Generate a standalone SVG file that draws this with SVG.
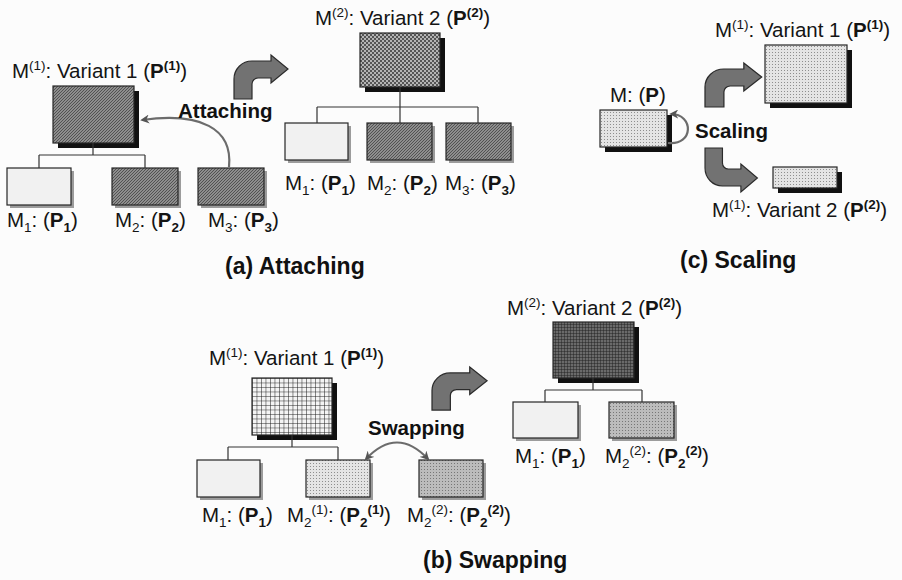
<svg xmlns="http://www.w3.org/2000/svg" width="902" height="580" viewBox="0 0 902 580">
  <style>
    .t { font-family: "Liberation Sans", Arial, sans-serif; font-size: 20.5px; fill: #141414; }
    .b { font-weight: bold; }
    .s { font-size: 13.5px; }
    .op { font-family: "Liberation Sans", Arial, sans-serif; font-weight: bold; font-size: 20.5px; fill: #111; }
    .cap { font-family: "Liberation Sans", Arial, sans-serif; font-weight: bold; font-size: 23px; fill: #111; }
    .box { stroke: #262626; stroke-width: 1.2; }
    .sh { fill: #111; }
    .shl { fill: #9c9c9c; }
    .light { fill: #f1f1f1; }
    .wire { fill: none; stroke: #333; stroke-width: 1.2; }
    .turn { fill: #727272; stroke: #2b2b2b; stroke-width: 1.2; }
    .thin { fill: none; stroke: #6c6c6c; stroke-width: 2.2; }
  </style>
  <defs>
    <!-- fine diagonal hatch, dark -->
    <pattern id="hatch" width="3" height="3" patternUnits="userSpaceOnUse">
      <rect width="3" height="3" fill="#8e8e8e"/>
      <path d="M-1,1 L1,-1 M0,3 L3,0 M2,4 L4,2" stroke="#4c4c4c" stroke-width="0.9"/>
    </pattern>
    <!-- checkerboard -->
    <pattern id="checker" width="4" height="4" patternUnits="userSpaceOnUse">
      <rect width="4" height="4" fill="#b4b4b4"/>
      <rect width="2" height="2" fill="#555"/>
      <rect x="2" y="2" width="2" height="2" fill="#555"/>
    </pattern>
    <!-- light dots -->
    <pattern id="dots" width="3" height="3" patternUnits="userSpaceOnUse">
      <rect width="3" height="3" fill="#e4e4e4"/>
      <rect x="1" y="1" width="1" height="1" fill="#8e8e8e"/>
    </pattern>
    <!-- medium dots -->
    <pattern id="gdots" width="3" height="3" patternUnits="userSpaceOnUse">
      <rect width="3" height="3" fill="#bcbcbc"/>
      <rect x="1" y="1" width="1" height="1" fill="#777"/>
    </pattern>
    <!-- open grid -->
    <pattern id="grid" x="252" y="378" width="4.5" height="4.5" patternUnits="userSpaceOnUse">
      <rect width="4.5" height="4.5" fill="#f4f4f4"/>
      <path d="M0,0 H4.5 M0,0 V4.5" stroke="#1e1e1e" stroke-width="1"/>
    </pattern>
    <!-- dense dark grid -->
    <pattern id="dgrid" width="3" height="3" patternUnits="userSpaceOnUse">
      <rect width="3" height="3" fill="#6a6a6a"/>
      <path d="M0,0 H3 M0,0 V3" stroke="#1c1c1c" stroke-width="0.9"/>
    </pattern>
    <!-- curved block arrow turning right -->
    <path id="turn" d="M0,44 L0,24 A18,18 0 0 1 18,6 L37,6 L37,0 L54,14 L37,28 L37,23 L24,23 A6,6 0 0 0 18,29 L18,44 Z"/>
    <marker id="head" viewBox="0 0 10 10" refX="8" refY="5" markerWidth="9" markerHeight="9" orient="auto-start-reverse" markerUnits="userSpaceOnUse">
      <path d="M0,0 L10,5 L0,10 L3,5 Z" fill="#555"/>
    </marker>
  </defs>

  <rect width="902" height="580" fill="#fcfcfc"/>

  <!-- (a) Attaching : variant 1 -->
  <g id="a1-root">
    <rect class="sh" x="58" y="91" width="81" height="57"/>
    <rect class="box" x="53" y="86" width="81" height="57" fill="url(#hatch)"/>
    <text class="t" x="12" y="78">M<tspan class="s" dy="-8">(1)</tspan><tspan dy="8">: Variant 1 (</tspan><tspan class="b">P</tspan><tspan class="b s" dy="-8">(1)</tspan><tspan dy="8">)</tspan></text>
  </g>
  <g id="a1-m1">
    <rect class="shl" x="10" y="171" width="64" height="37"/>
    <rect class="box light" x="7" y="168" width="64" height="37"/>
    <text class="t" x="7" y="227">M<tspan class="s" dy="5">1</tspan><tspan dy="-5">: (</tspan><tspan class="b">P</tspan><tspan class="b s" dy="5">1</tspan><tspan dy="-5">)</tspan></text>
  </g>
  <g id="a1-m2">
    <rect class="shl" x="115" y="171" width="66" height="37"/>
    <rect class="box" x="112" y="168" width="66" height="37" fill="url(#hatch)"/>
    <text class="t" x="115" y="227">M<tspan class="s" dy="5">2</tspan><tspan dy="-5">: (</tspan><tspan class="b">P</tspan><tspan class="b s" dy="5">2</tspan><tspan dy="-5">)</tspan></text>
  </g>
  <g id="a1-m3">
    <rect class="shl" x="201" y="171" width="66" height="37"/>
    <rect class="box" x="198" y="168" width="66" height="37" fill="url(#hatch)"/>
    <text class="t" x="208" y="227">M<tspan class="s" dy="5">3</tspan><tspan dy="-5">: (</tspan><tspan class="b">P</tspan><tspan class="b s" dy="5">3</tspan><tspan dy="-5">)</tspan></text>
  </g>

  <!-- (a) Attaching : variant 2 -->
  <g id="a2-root">
    <rect class="sh" x="365" y="38" width="80" height="54"/>
    <rect class="box" x="360" y="33" width="80" height="54" fill="url(#checker)"/>
    <text class="t" x="315" y="25">M<tspan class="s" dy="-8">(2)</tspan><tspan dy="8">: Variant 2 (</tspan><tspan class="b">P</tspan><tspan class="b s" dy="-8">(2)</tspan><tspan dy="8">)</tspan></text>
  </g>
  <g id="a2-m1">
    <rect class="shl" x="288" y="126" width="63" height="37"/>
    <rect class="box light" x="285" y="123" width="63" height="37"/>
    <text class="t" x="285" y="190">M<tspan class="s" dy="5">1</tspan><tspan dy="-5">: (</tspan><tspan class="b">P</tspan><tspan class="b s" dy="5">1</tspan><tspan dy="-5">)</tspan></text>
  </g>
  <g id="a2-m2">
    <rect class="shl" x="370" y="126" width="65" height="37"/>
    <rect class="box" x="367" y="123" width="65" height="37" fill="url(#hatch)"/>
    <text class="t" x="367" y="190">M<tspan class="s" dy="5">2</tspan><tspan dy="-5">: (</tspan><tspan class="b">P</tspan><tspan class="b s" dy="5">2</tspan><tspan dy="-5">)</tspan></text>
  </g>
  <g id="a2-m3">
    <rect class="shl" x="449" y="126" width="65" height="37"/>
    <rect class="box" x="446" y="123" width="65" height="37" fill="url(#hatch)"/>
    <text class="t" x="445" y="190">M<tspan class="s" dy="5">3</tspan><tspan dy="-5">: (</tspan><tspan class="b">P</tspan><tspan class="b s" dy="5">3</tspan><tspan dy="-5">)</tspan></text>
  </g>

  <!-- (c) Scaling -->
  <g id="c-src">
    <rect class="sh" x="605" y="115" width="67" height="37"/>
    <rect class="box" x="600" y="110" width="67" height="37" fill="url(#dots)"/>
    <text class="t" x="610" y="102">M: (<tspan class="b">P</tspan>)</text>
  </g>
  <g id="c-v1">
    <rect class="sh" x="770" y="50" width="82" height="58"/>
    <rect class="box" x="765" y="45" width="82" height="58" fill="url(#dots)"/>
    <text class="t" x="715" y="37">M<tspan class="s" dy="-8">(1)</tspan><tspan dy="8">: Variant 1 (</tspan><tspan class="b">P</tspan><tspan class="b s" dy="-8">(1)</tspan><tspan dy="8">)</tspan></text>
  </g>
  <g id="c-v2">
    <rect class="sh" x="778" y="172" width="64" height="21"/>
    <rect class="box" x="773" y="167" width="64" height="21" fill="url(#dots)"/>
    <text class="t" x="712" y="217">M<tspan class="s" dy="-8">(1)</tspan><tspan dy="8">: Variant 2 (</tspan><tspan class="b">P</tspan><tspan class="b s" dy="-8">(2)</tspan><tspan dy="8">)</tspan></text>
  </g>

  <!-- (b) Swapping : variant 1 -->
  <g id="b1-root">
    <rect class="sh" x="257" y="383" width="80" height="57"/>
    <rect class="box" x="252" y="378" width="80" height="57" fill="url(#grid)"/>
    <text class="t" x="209" y="365">M<tspan class="s" dy="-8">(1)</tspan><tspan dy="8">: Variant 1 (</tspan><tspan class="b">P</tspan><tspan class="b s" dy="-8">(1)</tspan><tspan dy="8">)</tspan></text>
  </g>
  <g id="b1-m1">
    <rect class="shl" x="200" y="463" width="63" height="37"/>
    <rect class="box light" x="197" y="460" width="63" height="37"/>
    <text class="t" x="202" y="522">M<tspan class="s" dy="5">1</tspan><tspan dy="-5">: (</tspan><tspan class="b">P</tspan><tspan class="b s" dy="5">1</tspan><tspan dy="-5">)</tspan></text>
  </g>
  <g id="b1-m2a">
    <rect class="shl" x="309" y="463" width="64" height="37"/>
    <rect class="box" x="306" y="460" width="64" height="37" fill="url(#dots)"/>
    <text class="t" x="287" y="522">M<tspan class="s" dy="5">2</tspan><tspan class="s" dy="-13">(1)</tspan><tspan dy="8">: (</tspan><tspan class="b">P</tspan><tspan class="b s" dy="5">2</tspan><tspan class="b s" dy="-13">(1)</tspan><tspan dy="8">)</tspan></text>
  </g>
  <g id="b1-m2b">
    <rect class="shl" x="422" y="463" width="64" height="37"/>
    <rect class="box" x="419" y="460" width="64" height="37" fill="url(#gdots)"/>
    <text class="t" x="407" y="522">M<tspan class="s" dy="5">2</tspan><tspan class="s" dy="-13">(2)</tspan><tspan dy="8">: (</tspan><tspan class="b">P</tspan><tspan class="b s" dy="5">2</tspan><tspan class="b s" dy="-13">(2)</tspan><tspan dy="8">)</tspan></text>
  </g>

  <!-- (b) Swapping : variant 2 -->
  <g id="b2-root">
    <rect class="sh" x="558" y="327" width="81" height="56"/>
    <rect class="box" x="553" y="322" width="81" height="56" fill="url(#dgrid)"/>
    <text class="t" x="507" y="315">M<tspan class="s" dy="-8">(2)</tspan><tspan dy="8">: Variant 2 (</tspan><tspan class="b">P</tspan><tspan class="b s" dy="-8">(2)</tspan><tspan dy="8">)</tspan></text>
  </g>
  <g id="b2-m1">
    <rect class="shl" x="516" y="405" width="65" height="36"/>
    <rect class="box light" x="513" y="402" width="65" height="36"/>
    <text class="t" x="515" y="463">M<tspan class="s" dy="5">1</tspan><tspan dy="-5">: (</tspan><tspan class="b">P</tspan><tspan class="b s" dy="5">1</tspan><tspan dy="-5">)</tspan></text>
  </g>
  <g id="b2-m2">
    <rect class="shl" x="612" y="405" width="65" height="36"/>
    <rect class="box" x="609" y="402" width="65" height="36" fill="url(#gdots)"/>
    <text class="t" x="605" y="463">M<tspan class="s" dy="5">2</tspan><tspan class="s" dy="-13">(2)</tspan><tspan dy="8">: (</tspan><tspan class="b">P</tspan><tspan class="b s" dy="5">2</tspan><tspan class="b s" dy="-13">(2)</tspan><tspan dy="8">)</tspan></text>
  </g>

  <!-- connectors: tree wiring, operation arrows and their labels -->
  <g id="connectors">
    <path class="wire" d="M93,143 V155 M39,155 H145 M39,155 V168 M145,155 V168"/>
    <path class="wire" d="M400,87 V107 M317,107 H478 M317,107 V123 M400,107 V123 M478,107 V123"/>
    <path class="wire" d="M292,435 V447 M228,447 H338 M228,447 V460 M338,447 V460"/>
    <path class="wire" d="M593,378 V390 M545,390 H642 M545,390 V402 M642,390 V402"/>

    <path class="thin" d="M229,167 C233,128 200,112 142,120" marker-end="url(#head)"/>
    <path class="thin" d="M668,143 C694,146 694,114 671,114" marker-end="url(#head)"/>
    <path class="thin" d="M366,459 Q397,426 428,459" marker-start="url(#head)" marker-end="url(#head)"/>

    <use href="#turn" class="turn" transform="translate(234,55)"/>
    <use href="#turn" class="turn" transform="translate(432,367) scale(1.02,0.98)"/>
    <use href="#turn" class="turn" transform="translate(705,63) scale(1.05,1)"/>
    <use href="#turn" class="turn" transform="translate(705,192) scale(0.97,-1)"/>

    <text class="op" x="178" y="118">Attaching</text>
    <text class="op" x="695" y="138">Scaling</text>
    <text class="op" x="368" y="435">Swapping</text>
  </g>

  <!-- captions -->
  <text class="cap" x="225" y="274">(a) Attaching</text>
  <text class="cap" x="680" y="268">(c) Scaling</text>
  <text class="cap" x="423" y="568">(b) Swapping</text>
</svg>
